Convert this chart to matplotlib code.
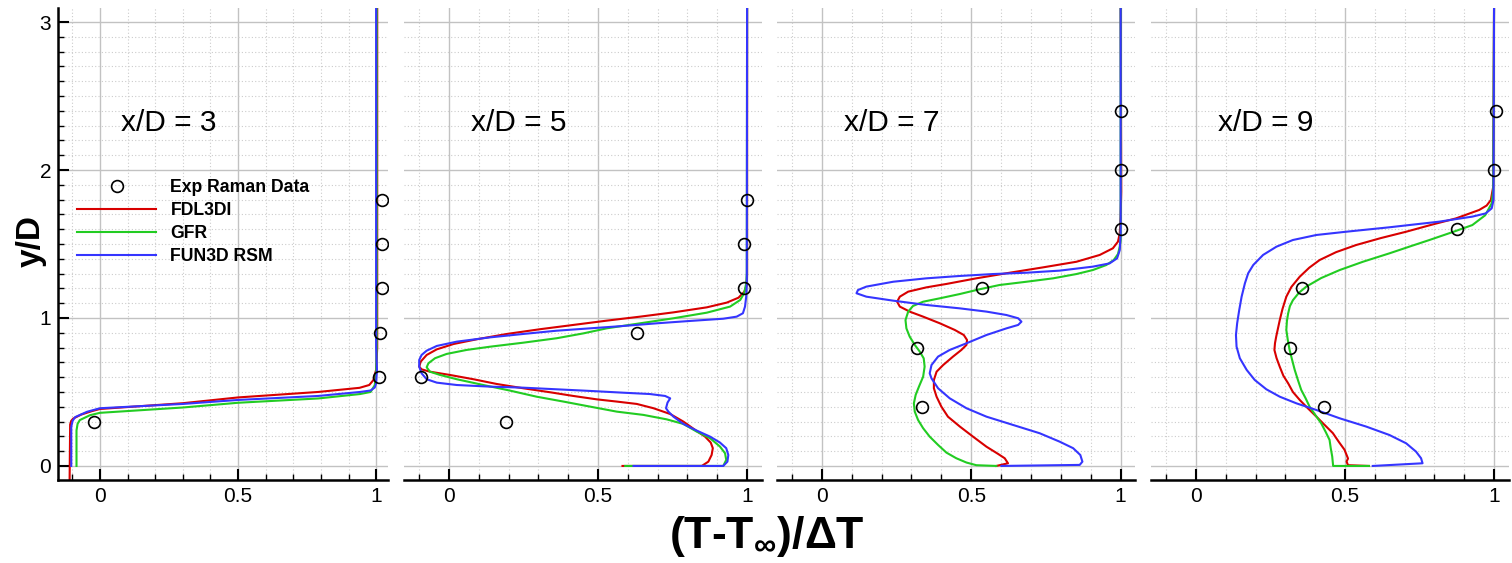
import numpy as np
import matplotlib
matplotlib.use('Agg')
import matplotlib.pyplot as plt
from matplotlib.ticker import MultipleLocator, FuncFormatter
from matplotlib.lines import Line2D

plt.rcParams['font.family'] = ['Liberation Sans', 'DejaVu Sans']
plt.rcParams['mathtext.fontset'] = 'custom'
plt.rcParams['mathtext.rm'] = 'Liberation Sans'
plt.rcParams['mathtext.bf'] = 'Liberation Sans:bold'
plt.rcParams['mathtext.default'] = 'regular'

# ---- data (x = (T-Tinf)/dT, y = y/D) ----
stations = [3, 5, 7, 9]

# x/D = 3
exp_x_3 = [-0.02, 1.01, 1.015, 1.02, 1.02, 1.02]
exp_y_3 = [0.3, 0.6, 0.9, 1.2, 1.5, 1.8]
fdl_x_3 = [-0.11, -0.108, -0.104, -0.097, -0.068, -0.03, 0.0, 0.3, 0.5, 0.79, 0.94, 0.975, 0.99,
           1.0, 1.004, 1.004]
fdl_y_3 = [-0.1, 0.28, 0.305, 0.32, 0.347, 0.37, 0.385, 0.424, 0.463, 0.50, 0.528, 0.547, 0.58,
           0.65, 0.8, 3.2]
gfr_x_3 = [-0.085, -0.085, -0.081, -0.073, -0.036, 0.0, 0.3, 0.5, 0.79, 0.942, 0.98, 0.995, 1.0,
           1.002, 1.002]
gfr_y_3 = [0.0, 0.24, 0.285, 0.31, 0.343, 0.359, 0.395, 0.427, 0.456, 0.486, 0.50, 0.546, 0.624,
           0.8, 3.2]
rsm_x_3 = [-0.104, -0.104, -0.099, -0.09, -0.047, 0.0, 0.3, 0.5, 0.79, 0.942, 0.98, 0.995, 1.0,
           1.003, 1.0, 1.0]
rsm_y_3 = [0.0, 0.265, 0.305, 0.33, 0.366, 0.39, 0.419, 0.446, 0.473, 0.50, 0.51, 0.53, 0.558,
           0.65, 0.8, 3.2]

# x/D = 5
exp_x_5 = [0.19, -0.095, 0.63, 0.99, 0.99, 1.0]
exp_y_5 = [0.3, 0.6, 0.9, 1.2, 1.5, 1.8]
fdl_x_5 = [0.582, 0.848, 0.87, 0.881, 0.885, 0.878, 0.859, 0.826, 0.786, 0.742, 0.686, 0.63,
           0.563, 0.496, 0.417, 0.339, 0.249, 0.16, 0.082, 0.003, -0.064, -0.092, -0.1, -0.095,
           -0.075, -0.041, 0.015, 0.093, 0.194, 0.305, 0.417, 0.529, 0.641, 0.753, 0.865, 0.932,
           0.971, 0.991, 0.999, 1.0, 1.0]
fdl_y_5 = [0.0, 0.0, 0.029, 0.074, 0.12, 0.158, 0.198, 0.243, 0.30, 0.351, 0.39, 0.419,
           0.435, 0.45, 0.473, 0.498, 0.525, 0.554, 0.586, 0.615, 0.637, 0.653, 0.671, 0.705,
           0.75, 0.788, 0.824, 0.856, 0.892, 0.924, 0.953, 0.982, 1.009, 1.038, 1.072, 1.104,
           1.137, 1.178, 1.223, 1.302, 3.2]
gfr_x_5 = [0.591, 0.92, 0.93, 0.926, 0.909, 0.876, 0.831, 0.786, 0.73, 0.652, 0.563, 0.473,
           0.384, 0.294, 0.205, 0.115, 0.026, -0.03, -0.064, -0.075, -0.069, -0.047, -0.008,
           0.059, 0.138, 0.249, 0.361, 0.451, 0.529, 0.641, 0.753, 0.865, 0.943, 0.977, 0.99,
           0.997, 0.999, 1.0]
gfr_y_5 = [0.0, 0.0, 0.041, 0.086, 0.131, 0.187, 0.232, 0.284, 0.315, 0.345, 0.367, 0.401,
           0.435, 0.468, 0.509, 0.547, 0.586, 0.615, 0.637, 0.667, 0.694, 0.728, 0.757,
           0.784, 0.806, 0.833, 0.863, 0.896, 0.93, 0.964, 0.998, 1.036, 1.077, 1.122, 1.167,
           1.234, 1.302, 3.2]
rsm_x_5 = [0.619, 0.92, 0.934, 0.937, 0.93, 0.909, 0.876, 0.831, 0.786, 0.753, 0.736, 0.728,
           0.733, 0.742, 0.725, 0.674, 0.585, 0.473, 0.361, 0.249, 0.138, 0.026, -0.041, -0.075,
           -0.092, -0.1, -0.1, -0.092, -0.075, -0.041, 0.026, 0.138, 0.249, 0.361, 0.473, 0.585,
           0.697, 0.809, 0.92, 0.965, 0.986, 0.993, 0.997, 0.999, 1.0]
rsm_y_5 = [0.0, 0.0, 0.029, 0.074, 0.12, 0.158, 0.198, 0.239, 0.284, 0.333, 0.367, 0.39,
           0.428, 0.457, 0.473, 0.486, 0.495, 0.507, 0.518, 0.529, 0.536, 0.547, 0.563, 0.586,
           0.626, 0.671, 0.716, 0.75, 0.779, 0.811, 0.84, 0.869, 0.892, 0.914, 0.93, 0.946,
           0.964, 0.98, 0.995, 1.009, 1.032, 1.077, 1.144, 1.234, 3.2]

# x/D = 7
exp_x_7 = [0.335, 0.317, 0.537, 1.0, 1.0, 1.0]
exp_y_7 = [0.4, 0.8, 1.2, 1.6, 2.0, 2.4]
fdl_x_7 = [0.584, 0.623, 0.612, 0.59, 0.551, 0.506, 0.462, 0.422, 0.40, 0.384, 0.375, 0.375,
           0.384, 0.406, 0.439, 0.467, 0.484, 0.486, 0.475, 0.445, 0.395, 0.339, 0.294, 0.261,
           0.252, 0.261, 0.289, 0.35, 0.417, 0.517, 0.629, 0.74, 0.852, 0.93, 0.974, 0.991,
           0.997, 1.0, 1.002, 1.0]
fdl_y_7 = [0.0, 0.018, 0.052, 0.081, 0.13, 0.198, 0.266, 0.333, 0.401, 0.468, 0.525, 0.581,
           0.637, 0.682, 0.739, 0.784, 0.818, 0.851, 0.885, 0.919, 0.964, 1.009, 1.043, 1.077,
           1.11, 1.144, 1.178, 1.207, 1.23, 1.268, 1.306, 1.342, 1.38, 1.426, 1.471, 1.516,
           1.572, 1.685, 1.853, 3.2]
gfr_x_7 = [0.584, 0.517, 0.484, 0.45, 0.417, 0.389, 0.361, 0.339, 0.322, 0.311, 0.308, 0.314,
           0.325, 0.339, 0.344, 0.341, 0.328, 0.311, 0.294, 0.283, 0.28, 0.289, 0.305, 0.339,
           0.395, 0.462, 0.528, 0.595, 0.685, 0.774, 0.852, 0.907, 0.952, 0.977, 0.991, 0.997,
           1.0, 1.0]
gfr_y_7 = [0.0, 0.005, 0.023, 0.052, 0.09, 0.142, 0.198, 0.255, 0.311, 0.367, 0.423, 0.48,
           0.536, 0.603, 0.671, 0.727, 0.772, 0.818, 0.874, 0.93, 0.986, 1.043, 1.081, 1.11,
           1.133, 1.162, 1.194, 1.223, 1.245, 1.268, 1.297, 1.324, 1.358, 1.392, 1.432, 1.482,
           1.527, 3.2]
rsm_x_7 = [0.601, 0.863, 0.872, 0.865, 0.841, 0.796, 0.729, 0.64, 0.551, 0.484, 0.428, 0.389,
           0.367, 0.361, 0.367, 0.389, 0.428, 0.484, 0.551, 0.618, 0.657, 0.668, 0.657, 0.618,
           0.551, 0.462, 0.35, 0.239, 0.149, 0.116, 0.121, 0.149, 0.239, 0.35, 0.462, 0.573,
           0.685, 0.796, 0.907, 0.963, 0.988, 0.997, 1.0, 1.0]
rsm_y_7 = [0.0, 0.007, 0.029, 0.074, 0.12, 0.164, 0.221, 0.277, 0.333, 0.39, 0.457, 0.525,
           0.592, 0.626, 0.682, 0.739, 0.784, 0.829, 0.885, 0.93, 0.953, 0.975, 0.998, 1.02,
           1.043, 1.065, 1.088, 1.117, 1.144, 1.167, 1.189, 1.212, 1.245, 1.268, 1.284, 1.297,
           1.306, 1.32, 1.347, 1.369, 1.403, 1.459, 1.572, 3.2]

# x/D = 9
exp_x_9 = [0.43, 0.315, 0.357, 0.877, 1.0, 1.005]
exp_y_9 = [0.4, 0.8, 1.2, 1.6, 2.0, 2.4]
fdl_x_9 = [0.58, 0.51, 0.505, 0.51, 0.498, 0.48, 0.459, 0.43, 0.404, 0.375, 0.348, 0.325,
           0.309, 0.293, 0.281, 0.27, 0.263, 0.265, 0.269, 0.275, 0.281, 0.29, 0.303, 0.32,
           0.348, 0.38, 0.415, 0.47, 0.537, 0.62, 0.705, 0.79, 0.872, 0.95, 0.975, 0.989,
           0.997, 1.0]
fdl_y_9 = [0.0, 0.005, 0.03, 0.05, 0.11, 0.16, 0.222, 0.28, 0.333, 0.39, 0.446, 0.50,
           0.559, 0.61, 0.67, 0.73, 0.784, 0.83, 0.874, 0.93, 0.986, 1.06, 1.144, 1.21,
           1.279, 1.34, 1.392, 1.445, 1.493, 1.54, 1.583, 1.63, 1.673, 1.73, 1.76, 1.797,
           1.887, 3.2]
gfr_x_9 = [0.58, 0.46, 0.457, 0.452, 0.448, 0.435, 0.42, 0.40, 0.381, 0.367, 0.353, 0.342,
           0.331, 0.322, 0.314, 0.308, 0.303, 0.305, 0.309, 0.315, 0.325, 0.345, 0.37, 0.42,
           0.482, 0.56, 0.649, 0.72, 0.783, 0.86, 0.927, 0.97, 0.992, 0.997, 1.0]
gfr_y_9 = [0.0, 0.0, 0.063, 0.12, 0.176, 0.23, 0.288, 0.345, 0.401, 0.46, 0.514, 0.58,
           0.65, 0.72, 0.784, 0.85, 0.919, 0.98, 1.03, 1.08, 1.12, 1.17, 1.212, 1.27,
           1.324, 1.38, 1.437, 1.485, 1.527, 1.58, 1.628, 1.694, 1.775, 1.865, 3.2]
rsm_x_9 = [0.593, 0.76, 0.755, 0.738, 0.705, 0.649, 0.571, 0.482, 0.404, 0.337, 0.281, 0.236,
           0.197, 0.17, 0.147, 0.136, 0.134, 0.138, 0.145, 0.153, 0.164, 0.175, 0.192, 0.225,
           0.27, 0.325, 0.404, 0.504, 0.649, 0.816, 0.927, 0.972, 0.992, 0.998, 1.0]
rsm_y_9 = [0.0, 0.018, 0.052, 0.097, 0.153, 0.209, 0.266, 0.322, 0.378, 0.423, 0.468, 0.518,
           0.581, 0.649, 0.728, 0.806, 0.885, 0.964, 1.054, 1.144, 1.234, 1.302, 1.358, 1.426,
           1.482, 1.527, 1.561, 1.583, 1.613, 1.651, 1.685, 1.707, 1.741, 1.797, 3.2]

exp_x = [exp_x_3, exp_x_5, exp_x_7, exp_x_9]
exp_y = [exp_y_3, exp_y_5, exp_y_7, exp_y_9]
fdl = [(fdl_x_3, fdl_y_3), (fdl_x_5, fdl_y_5), (fdl_x_7, fdl_y_7), (fdl_x_9, fdl_y_9)]
gfr = [(gfr_x_3, gfr_y_3), (gfr_x_5, gfr_y_5), (gfr_x_7, gfr_y_7), (gfr_x_9, gfr_y_9)]
rsm = [(rsm_x_3, rsm_y_3), (rsm_x_5, rsm_y_5), (rsm_x_7, rsm_y_7), (rsm_x_9, rsm_y_9)]

RED, GREEN, BLUE = '#d80000', '#22cc22', '#3535ff'

# ---- layout in pixels (figure 1512 x 563) ----
W, H = 1512, 563
ax_left = [58, 404, 777, 1151]
ax_width = [330, 358, 358, 358]
ax_xlim = [(-0.152, 1.043), (-0.151, 1.05), (-0.15, 1.048), (-0.151, 1.05)]
ax_top, ax_bottom = 8, 480

fig = plt.figure(figsize=(W / 100, H / 100), dpi=100)

for i, st in enumerate(stations):
    ax = fig.add_axes([ax_left[i] / W, (H - ax_bottom) / H, ax_width[i] / W, (ax_bottom - ax_top) / H])
    ax.set_xlim(*ax_xlim[i])
    ax.set_ylim(-0.095, 3.095)
    ax.xaxis.set_major_locator(MultipleLocator(0.5))
    ax.xaxis.set_minor_locator(MultipleLocator(0.1))
    ax.yaxis.set_major_locator(MultipleLocator(1))
    ax.yaxis.set_minor_locator(MultipleLocator(0.1))
    ax.xaxis.set_major_formatter(FuncFormatter(lambda v, p: f'{v:g}'))
    ax.yaxis.set_major_formatter(FuncFormatter(lambda v, p: f'{v:g}'))
    ax.grid(which='major', color='#c2c2c2', lw=1.0, ls='-')
    ax.grid(which='minor', color='#cccccc', lw=0.8, ls=(0, (1, 2)))
    ax.set_axisbelow(True)
    for s in ['top', 'right']:
        ax.spines[s].set_visible(False)
    ax.spines['bottom'].set_linewidth(1.8)
    ax.spines['left'].set_linewidth(1.8)
    ax.tick_params(which='both', direction='in', width=1.5, labelsize=15, pad=5)
    ax.tick_params(which='major', length=8)
    ax.tick_params(which='minor', length=4, width=1.0)
    if i > 0:
        ax.spines['left'].set_visible(False)
        ax.tick_params(axis='y', which='both', left=False, labelleft=False)

    ax.plot(fdl[i][0], fdl[i][1], color=RED, lw=1.5, label='FDL3DI')
    ax.plot(gfr[i][0], gfr[i][1], color=GREEN, lw=1.5, label='GFR')
    ax.plot(rsm[i][0], rsm[i][1], color=BLUE, lw=1.5, label='FUN3D RSM')
    ax.plot(exp_x[i], exp_y[i], 'o', mfc='none', mec='black', mew=1.2, ms=8.5,
            label='Exp Raman Data', zorder=5)

    ax.text(0.075, 2.32, f'x/D = {st}', fontsize=21.5, va='center', ha='left')

    if i == 0:
        handles = [Line2D([], [], ls='none', marker='o', mfc='none', mec='black', mew=1.2, ms=8.5),
                   Line2D([], [], color=RED, lw=1.5),
                   Line2D([], [], color=GREEN, lw=1.5),
                   Line2D([], [], color=BLUE, lw=1.5)]
        labels = ['Exp Raman Data', 'FDL3DI', 'GFR', 'FUN3D RSM']
        ax.legend(handles, labels, loc='upper left', frameon=False,
                  bbox_to_anchor=(77 / W, 1 - 179 / H), bbox_transform=fig.transFigure,
                  borderaxespad=0, borderpad=0, handlelength=4.5, handletextpad=0.8,
                  labelspacing=0.34, prop={'weight': 'bold', 'size': 12.7})

fig.text(31 / W, 1 - 241 / H, 'y/D', rotation=90, fontsize=24, fontweight='bold',
         ha='center', va='center')
fig.text(767 / W, 1 - 548 / H, r'(T-T$_\infty$)/$\Delta$T', fontsize=32, fontweight='bold',
         ha='center', va='baseline')

fig.savefig('out.png', dpi=100)
